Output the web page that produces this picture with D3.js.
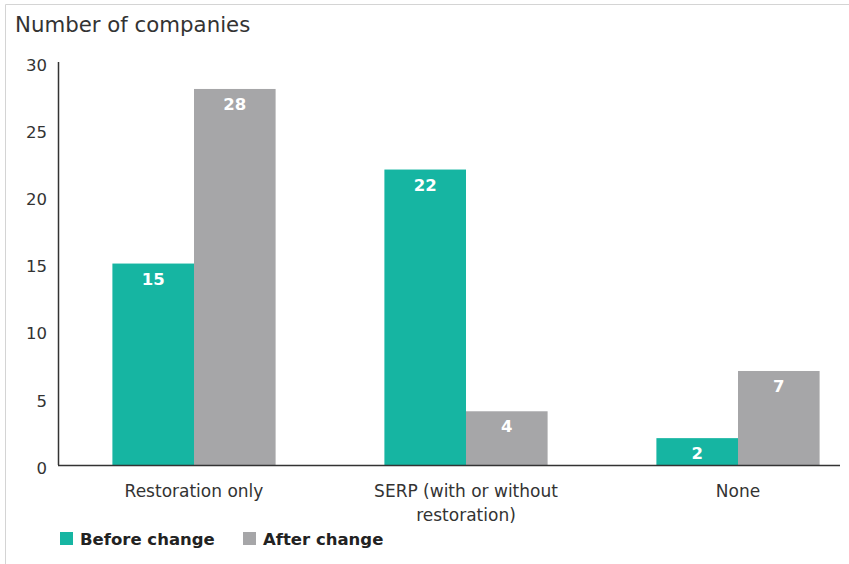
<!DOCTYPE html>
<html>
<head>
<meta charset="utf-8">
<script src="https://cdn.jsdelivr.net/npm/d3@7"></script>
<style>
  html, body { margin: 0; padding: 0; background: #fff; }
  svg { display: block; font-family: "DejaVu Sans", "Liberation Sans", Arial, sans-serif; }
</style>
</head>
<body>
<svg id="chart" width="849" height="564"></svg>
<script>
// Companies by type of plan, before and after the change
const categories = ["Restoration only", "SERP (with or without restoration)", "None"];
const categoryLines = [["Restoration only"], ["SERP (with or without", "restoration)"], ["None"]];
const seriesNames = ["Before change", "After change"];
const beforeValues = [15, 22, 2];
const afterValues = [28, 4, 7];
const yTicks = [0, 5, 10, 15, 20, 25, 30];

const colors = { "Before change": "#16b5a2", "After change": "#a6a6a8" };
const FONT = "'DejaVu Sans', 'Liberation Sans', Arial, sans-serif";

const svg = d3.select("#chart");
const W = 849, H = 564;

// light frame around the figure
svg.append("path")
  .attr("d", `M5.5,${H} V4.5 H${W}`)
  .attr("fill", "none")
  .attr("stroke", "#d4d4d4")
  .attr("stroke-width", 1);

const plot = { left: 58, right: 874, top: 62, bottom: 465 };

const x0 = d3.scaleBand()
  .domain(categories)
  .range([plot.left, plot.right])
  .paddingInner(0.4)
  .paddingOuter(0.2);

const x1 = d3.scaleBand()
  .domain(seriesNames)
  .range([0, x0.bandwidth()])
  .padding(0);

const y = d3.scaleLinear()
  .domain([0, 30])
  .range([plot.bottom, plot.bottom - 30 * 13.43]);

// title
svg.append("text")
  .attr("x", 15).attr("y", 32)
  .attr("font-size", 21.3)
  .attr("fill", "#333")
  .text("Number of companies");

// y axis
const yAxis = d3.axisLeft(y).tickValues(yTicks).tickSize(0).tickPadding(11);
const gy = svg.append("g").attr("transform", `translate(${plot.left},0)`).call(yAxis);
gy.select(".domain").remove();
gy.selectAll("text").attr("font-size", 16.5).attr("fill", "#333")
  .attr("font-family", FONT)
  .attr("dy", "0.5em");
svg.append("line")
  .attr("x1", plot.left + 0.5).attr("x2", plot.left + 0.5)
  .attr("y1", plot.top).attr("y2", plot.bottom)
  .attr("stroke", "#333").attr("stroke-width", 1.5);

// bars
const rows = categories.map((c, i) => ({
  category: c,
  values: [
    { series: "Before change", value: beforeValues[i] },
    { series: "After change", value: afterValues[i] }
  ]
}));

const groups = svg.append("g").selectAll("g")
  .data(rows).join("g")
  .attr("transform", d => `translate(${x0(d.category)},0)`);

groups.selectAll("rect")
  .data(d => d.values).join("rect")
  .attr("x", d => x1(d.series))
  .attr("y", d => y(d.value))
  .attr("width", x1.bandwidth())
  .attr("height", d => y(0) - y(d.value))
  .attr("fill", d => colors[d.series]);

groups.selectAll("text.val")
  .data(d => d.values).join("text")
  .attr("class", "val")
  .attr("x", d => x1(d.series) + x1.bandwidth() / 2)
  .attr("y", d => y(d.value) + 21)
  .attr("text-anchor", "middle")
  .attr("font-size", 16.5)
  .attr("font-weight", "bold")
  .attr("fill", "#fff")
  .text(d => d.value);

// x baseline
svg.append("line")
  .attr("x1", plot.left).attr("x2", 840)
  .attr("y1", plot.bottom + 0.5).attr("y2", plot.bottom + 0.5)
  .attr("stroke", "#333").attr("stroke-width", 1.5);

// category labels
categories.forEach((c, i) => {
  const t = svg.append("text")
    .attr("x", x0(c) + x0.bandwidth() / 2)
    .attr("y", 497)
    .attr("text-anchor", "middle")
    .attr("font-size", 17)
    .attr("fill", "#333");
  categoryLines[i].forEach((line, j) => {
    t.append("tspan")
      .attr("x", x0(c) + x0.bandwidth() / 2)
      .attr("dy", j === 0 ? 0 : 24)
      .text(line);
  });
});

// legend
const legendItems = [
  { name: "Before change", x: 60 },
  { name: "After change", x: 243 }
];
const lg = svg.append("g");
legendItems.forEach(d => {
  lg.append("rect")
    .attr("x", d.x).attr("y", 532)
    .attr("width", 13).attr("height", 13)
    .attr("fill", colors[d.name]);
  lg.append("text")
    .attr("x", d.x + 20).attr("y", 545)
    .attr("font-size", 16.5)
    .attr("font-weight", "bold")
    .attr("fill", "#222")
    .text(d.name);
});
</script>
</body>
</html>
